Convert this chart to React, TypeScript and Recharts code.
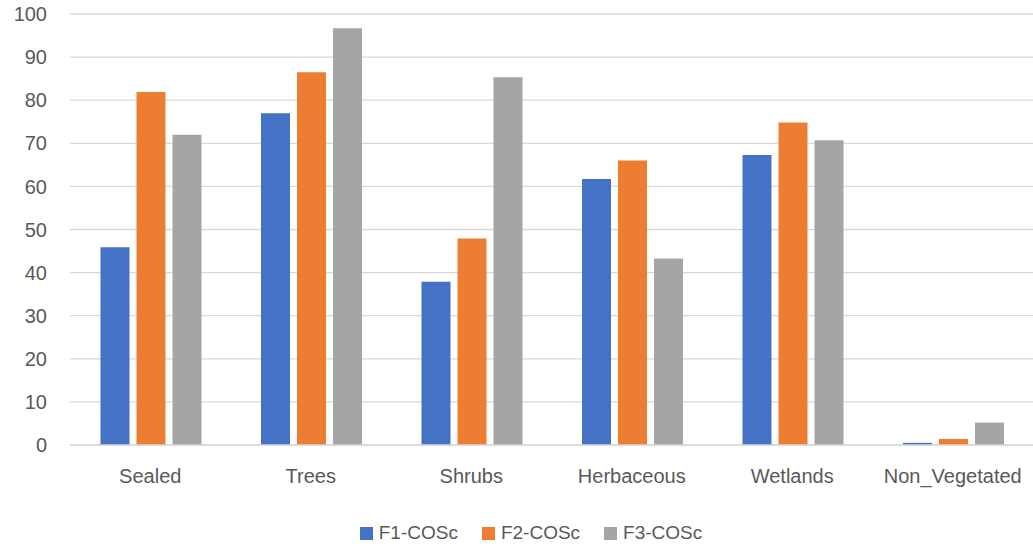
import {
  Bar,
  BarChart,
  CartesianGrid,
  Legend,
  XAxis,
  YAxis,
} from "recharts";

const classes = ["Sealed", "Trees", "Shrubs", "Herbaceous", "Wetlands", "Non_Vegetated"];
const f1 = [45.9, 77.0, 37.9, 61.7, 67.3, 0.5];
const f2 = [81.9, 86.5, 47.9, 66.0, 74.8, 1.4];
const f3 = [72.0, 96.7, 85.3, 43.3, 70.7, 5.2];
const yTicks = [0, 10, 20, 30, 40, 50, 60, 70, 80, 90, 100];

const series = [
  { key: "f1", name: "F1-COSc", color: "#4472C4" },
  { key: "f2", name: "F2-COSc", color: "#ED7D31" },
  { key: "f3", name: "F3-COSc", color: "#A5A5A5" },
];

const data = classes.map((c, i) => ({ name: c, f1: f1[i], f2: f2[i], f3: f3[i] }));

const FONT = '"Liberation Sans", Arial, sans-serif';
const TEXT = "#595959";

const LegendBox = () => (
  <div
    style={{
      display: "flex",
      justifyContent: "center",
      alignItems: "center",
      gap: 24,
      paddingLeft: 29,
      fontFamily: FONT,
      fontSize: 19,
      color: TEXT,
      height: 30,
    }}
  >
    {series.map((s) => (
      <div key={s.key} style={{ display: "flex", alignItems: "center", gap: 6 }}>
        <span style={{ width: 13, height: 13, background: s.color, display: "inline-block" }} />
        <span>{s.name}</span>
      </div>
    ))}
  </div>
);

export default function App() {
  return (
    <div style={{ position: "absolute", left: 0, top: 0, background: "#fff" }}>
      <BarChart
        width={1033}
        height={549}
        data={data}
        margin={{ top: 14, right: 0, left: 0, bottom: 1 }}
        barCategoryGap="19%"
        barGap={7}
      >
        <CartesianGrid vertical={false} stroke="#d9d9d9" strokeWidth={1.3} />
        <XAxis
          dataKey="name"
          height={73}
          tickLine={false}
          tickSize={0}
          tickMargin={24}
          axisLine={{ stroke: "#d9d9d9", strokeWidth: 1.3 }}
          tick={{ fill: TEXT, fontSize: 20, fontFamily: FONT }}
          interval={0}
        />
        <YAxis
          width={70}
          domain={[0, 100]}
          ticks={yTicks}
          axisLine={false}
          tickLine={false}
          tickSize={0}
          tickMargin={23}
          tick={{ fill: TEXT, fontSize: 20, fontFamily: FONT }}
        />
        <Legend verticalAlign="bottom" height={30} content={() => <LegendBox />} />
        {series.map((s) => (
          <Bar
            key={s.key}
            dataKey={s.key}
            name={s.name}
            fill={s.color}
            isAnimationActive={false}
          />
        ))}
      </BarChart>
    </div>
  );
}
